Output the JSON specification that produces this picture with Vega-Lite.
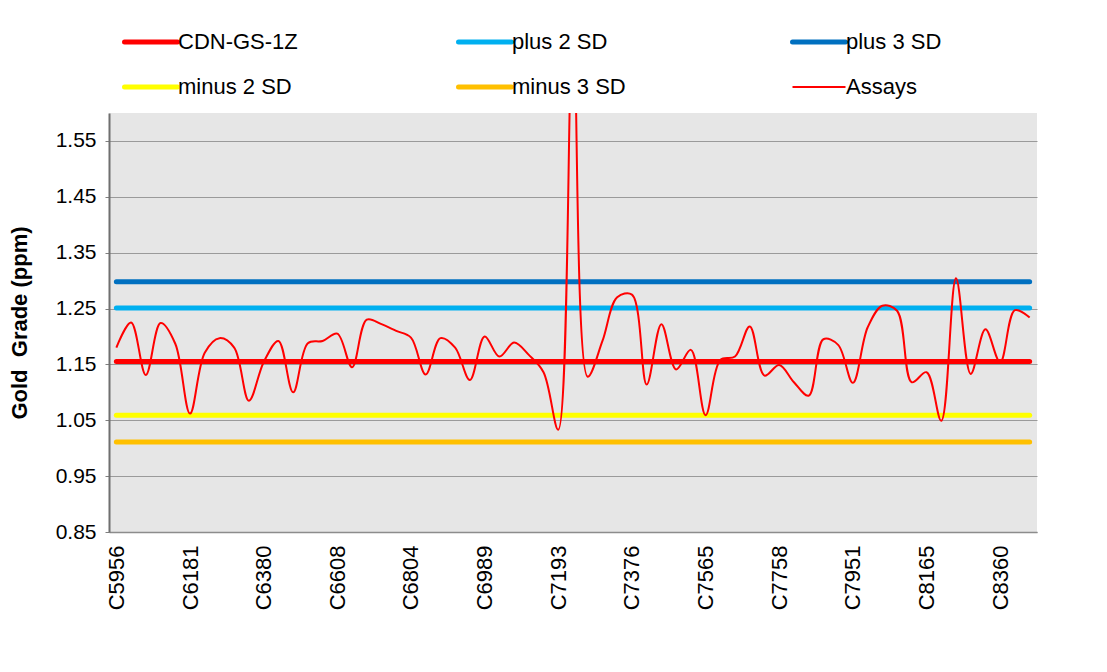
{
  "$schema": "https://vega.github.io/schema/vega-lite/v6.json",
  "width": 928,
  "height": 419,
  "autosize": {"type": "none"},
  "padding": {"left": 109, "top": 113, "right": 70, "bottom": 140},
  "background": "white",
  "config": {
    "font": "Liberation Sans",
    "view": {"stroke": null, "fill": "#e6e6e6"},
    "axis": {"labelFont": "Liberation Sans", "titleFont": "Liberation Sans", "labelColor": "#000000", "titleColor": "#000000"}
  },
  "datasets": {
    "assays": [
      {"sample": "C5956", "grade": 1.180, "series": "Assays"},
      {"sample": "C6001", "grade": 1.225, "series": "Assays"},
      {"sample": "C6046", "grade": 1.131, "series": "Assays"},
      {"sample": "C6091", "grade": 1.224, "series": "Assays"},
      {"sample": "C6136", "grade": 1.187, "series": "Assays"},
      {"sample": "C6181", "grade": 1.062, "series": "Assays"},
      {"sample": "C6221", "grade": 1.171, "series": "Assays"},
      {"sample": "C6261", "grade": 1.197, "series": "Assays"},
      {"sample": "C6301", "grade": 1.180, "series": "Assays"},
      {"sample": "C6341", "grade": 1.085, "series": "Assays"},
      {"sample": "C6380", "grade": 1.154, "series": "Assays"},
      {"sample": "C6426", "grade": 1.192, "series": "Assays"},
      {"sample": "C6471", "grade": 1.100, "series": "Assays"},
      {"sample": "C6517", "grade": 1.188, "series": "Assays"},
      {"sample": "C6562", "grade": 1.192, "series": "Assays"},
      {"sample": "C6608", "grade": 1.205, "series": "Assays"},
      {"sample": "C6647", "grade": 1.145, "series": "Assays"},
      {"sample": "C6686", "grade": 1.230, "series": "Assays"},
      {"sample": "C6726", "grade": 1.222, "series": "Assays"},
      {"sample": "C6765", "grade": 1.210, "series": "Assays"},
      {"sample": "C6804", "grade": 1.198, "series": "Assays"},
      {"sample": "C6841", "grade": 1.132, "series": "Assays"},
      {"sample": "C6878", "grade": 1.197, "series": "Assays"},
      {"sample": "C6915", "grade": 1.180, "series": "Assays"},
      {"sample": "C6952", "grade": 1.122, "series": "Assays"},
      {"sample": "C6989", "grade": 1.200, "series": "Assays"},
      {"sample": "C7030", "grade": 1.164, "series": "Assays"},
      {"sample": "C7071", "grade": 1.189, "series": "Assays"},
      {"sample": "C7111", "grade": 1.167, "series": "Assays"},
      {"sample": "C7152", "grade": 1.136, "series": "Assays"},
      {"sample": "C7193", "grade": 1.033, "series": "Assays"},
      {"sample": "C7230", "grade": 1.760, "series": "Assays"},
      {"sample": "C7266", "grade": 1.128, "series": "Assays"},
      {"sample": "C7303", "grade": 1.192, "series": "Assays"},
      {"sample": "C7339", "grade": 1.270, "series": "Assays"},
      {"sample": "C7376", "grade": 1.275, "series": "Assays"},
      {"sample": "C7414", "grade": 1.114, "series": "Assays"},
      {"sample": "C7452", "grade": 1.222, "series": "Assays"},
      {"sample": "C7489", "grade": 1.141, "series": "Assays"},
      {"sample": "C7527", "grade": 1.176, "series": "Assays"},
      {"sample": "C7565", "grade": 1.059, "series": "Assays"},
      {"sample": "C7604", "grade": 1.158, "series": "Assays"},
      {"sample": "C7642", "grade": 1.164, "series": "Assays"},
      {"sample": "C7681", "grade": 1.218, "series": "Assays"},
      {"sample": "C7719", "grade": 1.130, "series": "Assays"},
      {"sample": "C7758", "grade": 1.149, "series": "Assays"},
      {"sample": "C7797", "grade": 1.118, "series": "Assays"},
      {"sample": "C7835", "grade": 1.094, "series": "Assays"},
      {"sample": "C7874", "grade": 1.195, "series": "Assays"},
      {"sample": "C7912", "grade": 1.185, "series": "Assays"},
      {"sample": "C7951", "grade": 1.117, "series": "Assays"},
      {"sample": "C7994", "grade": 1.216, "series": "Assays"},
      {"sample": "C8037", "grade": 1.255, "series": "Assays"},
      {"sample": "C8079", "grade": 1.246, "series": "Assays"},
      {"sample": "C8122", "grade": 1.118, "series": "Assays"},
      {"sample": "C8165", "grade": 1.136, "series": "Assays"},
      {"sample": "C8204", "grade": 1.049, "series": "Assays"},
      {"sample": "C8243", "grade": 1.304, "series": "Assays"},
      {"sample": "C8282", "grade": 1.133, "series": "Assays"},
      {"sample": "C8321", "grade": 1.213, "series": "Assays"},
      {"sample": "C8360", "grade": 1.154, "series": "Assays"},
      {"sample": "C8399", "grade": 1.247, "series": "Assays"},
      {"sample": "C8438", "grade": 1.234, "series": "Assays"}
    ],
    "limits": [
      {"series": "CDN-GS-1Z", "grade": 1.155, "first": "C5956", "last": "C8438"},
      {"series": "plus 2 SD", "grade": 1.251, "first": "C5956", "last": "C8438"},
      {"series": "plus 3 SD", "grade": 1.298, "first": "C5956", "last": "C8438"},
      {"series": "minus 2 SD", "grade": 1.059, "first": "C5956", "last": "C8438"},
      {"series": "minus 3 SD", "grade": 1.011, "first": "C5956", "last": "C8438"}
    ]
  },
  "layer": [
    {
      "data": {"name": "limits"},
      "mark": {"type": "rule", "strokeCap": "round", "strokeWidth": 5},
      "encoding": {
        "x": {"field": "first", "type": "nominal"},
        "x2": {"field": "last"},
        "y": {"field": "grade", "type": "quantitative"},
        "color": {"field": "series", "type": "nominal"}
      }
    },
    {
      "data": {"name": "assays"},
      "mark": {"type": "line", "interpolate": "catmull-rom", "clip": true, "strokeWidth": 2},
      "encoding": {
        "x": {
          "field": "sample", "type": "nominal", "sort": null,
          "scale": {"type": "point", "padding": 0.5},
          "axis": {
            "title": null,
            "values": ["C5956","C6181","C6380","C6608","C6804","C6989","C7193","C7376","C7565","C7758","C7951","C8165","C8360"],
            "labelAngle": 270, "labelAlign": "right", "labelBaseline": "middle",
            "labelFontSize": 22, "labelPadding": 13, "ticks": false,
            "domainColor": "#8c8c8c", "domainWidth": 1.5, "grid": false
          }
        },
        "y": {
          "field": "grade", "type": "quantitative",
          "scale": {"domain": [0.85, 1.6], "nice": false, "zero": false},
          "axis": {
            "title": "Gold\u00a0 Grade (ppm)", "titleFontSize": 22, "titleFontWeight": "bold", "titlePadding": 24,
            "values": [0.85, 0.95, 1.05, 1.15, 1.25, 1.35, 1.45, 1.55], "format": ".2f",
            "labelFontSize": 21, "labelPadding": 9, "tickSize": 4, "tickColor": "#7f7f7f",
            "domainColor": "#6f6f6f", "domainWidth": 2,
            "gridColor": "#9a9a9a", "gridWidth": 1.2
          }
        },
        "color": {
          "field": "series", "type": "nominal",
          "scale": {
            "domain": ["CDN-GS-1Z", "minus 2 SD", "plus 2 SD", "minus 3 SD", "plus 3 SD", "Assays"],
            "range": ["#ff0000", "#ffff00", "#00b0f0", "#ffc000", "#0070c0", "#ff0000"]
          },
          "legend": {
            "title": null, "orient": "none", "legendX": 31, "legendY": -82,
            "columns": 3, "gridAlign": "all", "columnPadding": 150, "rowPadding": 23,
            "symbolType": "stroke", "symbolSize": 2809, "symbolStrokeWidth": 5, "labelFontSize": 22, "labelOffset": 16,
            "labelColor": "#000000", "labelFont": "Liberation Sans", "padding": 0,
            "encode": {
              "symbols": {
                "update": {
                  "strokeWidth": {"signal": "datum.value === 'Assays' ? 2 : 5"},
                  "strokeCap": {"signal": "datum.value === 'Assays' ? 'butt' : 'round'"}
                }
              }
            }
          }
        }
      }
    }
  ]
}
